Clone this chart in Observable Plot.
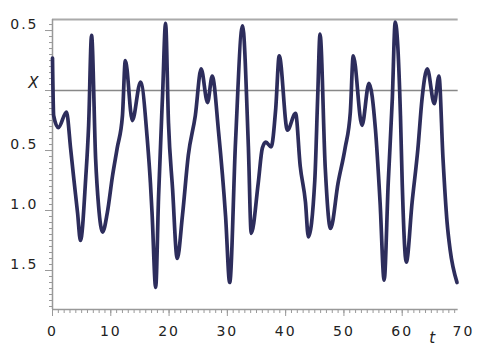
<!DOCTYPE html>
<html><head><meta charset="utf-8">
<script src="https://cdn.jsdelivr.net/npm/d3@7"></script>
<script src="https://cdn.jsdelivr.net/npm/@observablehq/plot@0.6"></script>
<style>
body{margin:0;background:#fff}
svg text{letter-spacing:2px}
</style>
</head><body><div id="chart"></div>
<script>
const tValues = [0.0,0.2,1.0,2.4,3.1,3.6,4.3,4.8,5.7,6.2,6.7,7.4,7.9,8.6,9.4,10.3,11.1,12.0,12.5,13.7,15.1,16.3,16.8,17.1,17.7,18.2,18.9,19.4,19.9,20.6,21.4,22.3,23.3,24.5,25.5,26.6,27.4,28.5,29.7,30.4,31.4,32.6,33.6,34.1,35.3,36.0,36.6,37.5,38.3,38.9,40.3,41.7,42.5,43.4,43.9,45.0,45.5,45.9,46.8,47.7,49.0,50.2,51.1,51.6,53.1,54.3,55.4,56.2,56.9,57.6,58.3,58.8,59.7,60.0,60.7,61.7,62.7,63.4,64.3,65.5,66.3,67.0,67.7,68.2,69.4];
const xValues = [0.27,-0.21,-0.31,-0.18,-0.48,-0.71,-1.02,-1.25,-0.73,-0.29,0.46,-0.57,-0.96,-1.18,-1.02,-0.71,-0.48,-0.21,0.25,-0.25,0.07,-0.43,-0.77,-1.04,-1.64,-0.88,-0.02,0.56,-0.27,-0.82,-1.40,-1.04,-0.54,-0.21,0.18,-0.10,0.12,-0.35,-1.05,-1.60,-0.43,0.54,-0.46,-1.19,-0.77,-0.48,-0.43,-0.47,-0.15,0.29,-0.33,-0.19,-0.63,-0.93,-1.22,-0.75,-0.05,0.47,-0.65,-1.15,-0.77,-0.48,-0.18,0.29,-0.29,0.06,-0.32,-0.93,-1.58,-0.77,-0.07,0.57,-0.21,-0.77,-1.43,-0.93,-0.48,-0.07,0.18,-0.11,0.12,-0.57,-1.10,-1.32,-1.60];
const xTicks = [0,10,20,30,40,50,60,70];
const yTicks = [-1.5,-1,-0.5,0.5];
const yTickLabels = ["1.5","1.0","0.5","0.5"];
const yAxisName = "X";
const xAxisName = "t";

const data = tValues.map((t,i)=>({t, v:xValues[i]}));
const yTop = 0.592, yBottom = -1.825;

const chart = Plot.plot({
  width:480, height:347,
  marginLeft:52, marginRight:20, marginTop:19, marginBottom:38,
  x:{domain:[0,70]},
  y:{domain:[yBottom,yTop]},
  style:{fontFamily:"DejaVu Sans, sans-serif", fontSize:"14px", color:"#222", background:"#fff"},
  marks:[
    Plot.ruleY([yTop],{x1:0,x2:69.6,stroke:"#aaa",strokeWidth:2}),
    Plot.ruleY([0],{x1:0,x2:69.6,stroke:"#888",strokeWidth:1.5}),
    Plot.ruleY([yBottom],{x1:0,x2:69.6,stroke:"#999",strokeWidth:1.5}),
    Plot.ruleX([0],{stroke:"#999",strokeWidth:1.5}),
    Plot.axisY(d3.range(-36,12).map(i=>i*0.05),{anchor:"left",tickSize:3,tickFormat:()=>"",label:null,stroke:"#999"}),
    Plot.axisY([0,...yTicks],{anchor:"left",tickSize:7,tickFormat:()=>"",label:null,stroke:"#999"}),
    Plot.axisY(yTicks,{anchor:"left",tickSize:0,tickPadding:14,dy:-6,tickFormat:d=>yTickLabels[yTicks.indexOf(d)],label:null}),
    Plot.text([yAxisName],{x:()=>0,y:()=>0,text:d=>d,textAnchor:"end",dx:-12,dy:-7,fontStyle:"italic",fontSize:15}),
    Plot.axisX(d3.range(0,70),{anchor:"bottom",tickSize:4,tickFormat:()=>"",label:null,stroke:"#999"}),
    Plot.axisX(xTicks.slice(0,-1),{anchor:"bottom",tickSize:7,tickPadding:10,label:null,stroke:"#999"}),
    Plot.axisX([xTicks[xTicks.length-1]],{anchor:"bottom",tickSize:0,tickPadding:17,dx:3,label:null}),
    Plot.text([xAxisName],{x:()=>65.3,frameAnchor:"bottom",text:d=>d,dy:33,fontStyle:"italic",fontSize:15}),
    Plot.line(data,{x:"t",y:"v",stroke:"#2d2d5c",strokeWidth:3.7,curve:"monotone-x"})
  ]
});
document.getElementById("chart").appendChild(chart);
</script>
</body></html>
